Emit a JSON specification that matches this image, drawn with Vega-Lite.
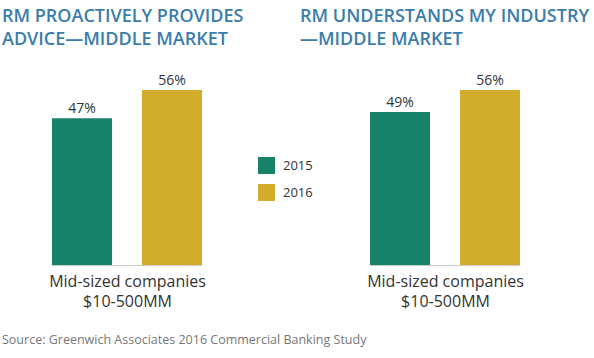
{
  "$schema": "https://vega.github.io/schema/vega-lite/v6.json",
  "background": "white",
  "padding": {"left": 2, "top": 8, "right": 5, "bottom": 8},
  "bounds": "flush",
  "spacing": 168,
  "config": {"view": {"stroke": null}, "font": "Open Sans"},
  "title": {"text": "Source: Greenwich Associates 2016 Commercial Banking Study", "orient": "bottom", "anchor": "start", "fontSize": 12.5, "fontWeight": "normal", "color": "#777777", "offset": 25},
  "data": {"values": [
    {"panel": "advice", "year": "2015", "value": 0.47},
    {"panel": "advice", "year": "2016", "value": 0.56},
    {"panel": "industry", "year": "2015", "value": 0.49},
    {"panel": "industry", "year": "2016", "value": 0.56}
  ]},
  "resolve": {"scale": {"color": "shared"}},
  "hconcat": [
    {
      "width": 150, "height": 175,
      "title": {"text": ["RM PROACTIVELY PROVIDES", "ADVICE—MIDDLE MARKET"], "anchor": "start", "frame": "group", "dx": -50, "fontSize": 18, "fontWeight": 600, "color": "#3a7cab", "lineHeight": 23, "offset": 25},
      "transform": [{"filter": "datum.panel == 'advice'"}],
      "encoding": {
        "x": {"field": "year", "type": "nominal", "scale": {"paddingInner": 0.333, "paddingOuter": 0}, "axis": {"title": ["Mid-sized companies", "$10-500MM"], "labels": false, "ticks": false, "domainColor": "#cccccc", "titleFontSize": 16, "titleFontWeight": "normal", "titleColor": "#333333", "titlePadding": 8, "titleLineHeight": 20}},
        "y": {"field": "value", "type": "quantitative", "scale": {"domain": [0, 0.56], "nice": false}, "axis": null}
      },
      "layer": [
        {"mark": {"type": "bar"}, "encoding": {"color": {"field": "year", "type": "nominal", "scale": {"domain": ["2015", "2016"], "range": ["#17826a", "#d1ad2b"]}, "legend": {"orient": "none", "legendX": 206, "legendY": 67, "title": null, "symbolType": "square", "symbolSize": 289, "symbolStrokeWidth": 0, "symbolOpacity": 1, "labelFontSize": 13, "labelColor": "#333333", "rowPadding": 10, "labelOffset": 8}}}},
        {"mark": {"type": "text", "dy": -5, "baseline": "alphabetic", "fontSize": 14, "color": "#333333"}, "encoding": {"text": {"field": "value", "type": "quantitative", "format": ".0%"}}}
      ]
    },
    {
      "width": 150, "height": 175,
      "title": {"text": ["RM UNDERSTANDS MY INDUSTRY", "—MIDDLE MARKET"], "anchor": "start", "frame": "group", "dx": -70, "fontSize": 18, "fontWeight": 600, "color": "#3a7cab", "lineHeight": 23, "offset": 25},
      "transform": [{"filter": "datum.panel == 'industry'"}],
      "encoding": {
        "x": {"field": "year", "type": "nominal", "scale": {"paddingInner": 0.333, "paddingOuter": 0}, "axis": {"title": ["Mid-sized companies", "$10-500MM"], "labels": false, "ticks": false, "domainColor": "#cccccc", "titleFontSize": 16, "titleFontWeight": "normal", "titleColor": "#333333", "titlePadding": 8, "titleLineHeight": 20}},
        "y": {"field": "value", "type": "quantitative", "scale": {"domain": [0, 0.56], "nice": false}, "axis": null}
      },
      "layer": [
        {"mark": {"type": "bar"}, "encoding": {"color": {"field": "year", "type": "nominal"}}},
        {"mark": {"type": "text", "dy": -5, "baseline": "alphabetic", "fontSize": 14, "color": "#333333"}, "encoding": {"text": {"field": "value", "type": "quantitative", "format": ".0%"}}}
      ]
    }
  ]
}
